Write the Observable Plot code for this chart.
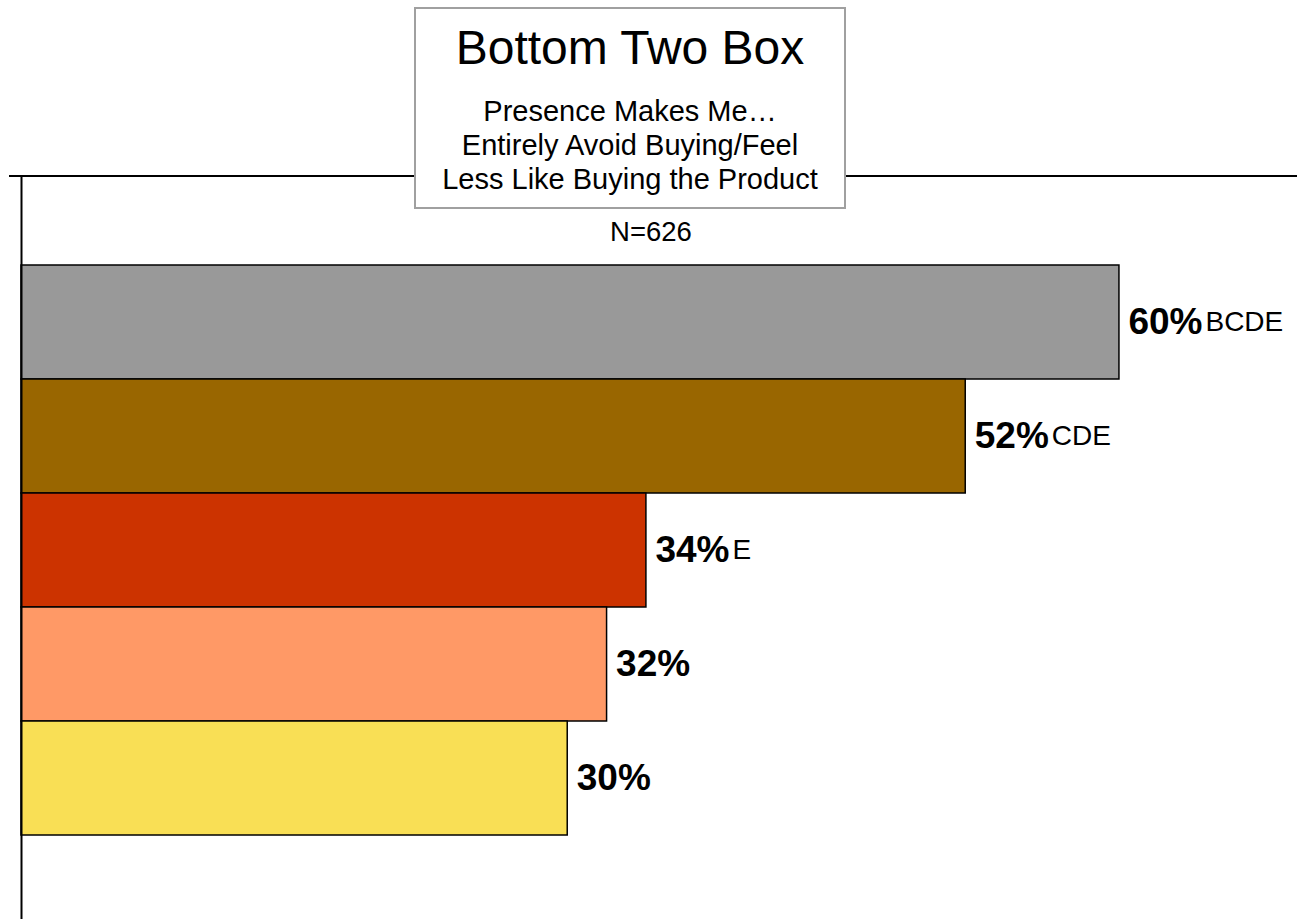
<!DOCTYPE html>
<html>
<head>
<meta charset="utf-8">
<script src="https://cdn.jsdelivr.net/npm/d3@7"></script>
<script src="https://cdn.jsdelivr.net/npm/@observablehq/plot@0.6"></script>
<style>
  html, body { margin: 0; padding: 0; background: #fff; }
  body { width: 1297px; height: 919px; position: relative; overflow: hidden; font-family: "Liberation Sans", Arial, sans-serif; }
  #chart { position: absolute; left: 0; top: 0; }
  #titlebox {
    position: absolute; left: 414px; top: 7px; width: 432px; height: 202px;
    box-sizing: border-box; border: 2px solid #a0a0a0; background: #fff;
    text-align: center; color: #000;
  }
  #titlebox .t { font-size: 48px; line-height: 48px; margin-top: 15px; white-space: nowrap; }
  #titlebox .s { font-size: 29px; line-height: 34px; margin-top: 22px; white-space: nowrap; }
  #ncount { position: absolute; left: 551px; top: 218px; width: 200px; text-align: center; font-size: 27.5px; line-height: 28px; }
</style>
</head>
<body>
<div id="chart"></div>
<div id="titlebox">
  <div class="t">Bottom Two Box</div>
  <div class="s">Presence Makes Me…<br>Entirely Avoid Buying/Feel<br>Less Like Buying the Product</div>
</div>
<div id="ncount">N=626</div>
<script>
const categories = ["A", "B", "C", "D", "E"];
const values = [60, 51.6, 34.15, 32, 29.85];
const sigLetters = ["BCDE", "CDE", "E", "", ""];
const colors = ["#999999", "#996600", "#CC3300", "#FF9966", "#F9DF55"];

const data = categories.map((c, i) => ({cat: c, value: values[i], sig: sigLetters[i]}));

const W = 1297, H = 919;
const plot = Plot.plot({
  width: W,
  height: H,
  marginLeft: 21,
  marginRight: 0,
  marginTop: 176,
  marginBottom: 0,
  style: {fontFamily: "'Liberation Sans', Arial, sans-serif", background: "transparent", overflow: "visible"},
  x: {domain: [0, 69.73], axis: null},
  y: {domain: categories, axis: null, paddingInner: 0, paddingOuter: 0.733, align: 0.515},
  color: {domain: categories, range: colors},
  marks: [
    Plot.barX(data, {x: "value", y: "cat", fill: "cat", stroke: "#000", strokeWidth: 1.5}),
    Plot.ruleX([0], {stroke: "#000", strokeWidth: 2}),
    Plot.text(data, {x: "value", y: "cat", text: d => Math.round(d.value) + "%", textAnchor: "start", dx: 9, fontSize: 37, fontWeight: "bold", fill: "#000"}),
    Plot.text(data, {x: "value", y: "cat", text: "sig", textAnchor: "start", dx: 86, fontSize: 28, fill: "#000"})
  ]
});
document.getElementById("chart").appendChild(plot);

// top border line across the chart area
const svg = d3.select(plot);
svg.append("line")
  .attr("x1", 9).attr("x2", W)
  .attr("y1", 176).attr("y2", 176)
  .attr("stroke", "#000").attr("stroke-width", 2);
</script>
</body>
</html>
